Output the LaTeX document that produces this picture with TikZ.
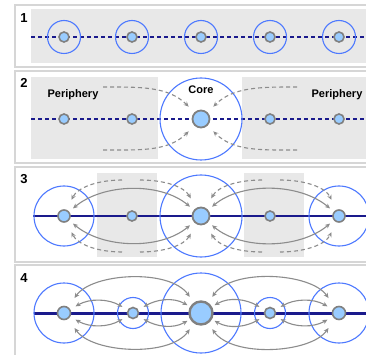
\documentclass[tikz,border=0pt]{standalone}
\usepackage{fontspec}
\setmainfont{Liberation Sans}
\usetikzlibrary{arrows.meta}
\definecolor{ringblue}{RGB}{77,121,255}
\definecolor{sitefill}{RGB}{153,204,255}
\definecolor{sitegray}{RGB}{128,128,128}
\definecolor{navy}{RGB}{26,26,140}
\definecolor{pale}{RGB}{232,232,232}
\definecolor{rim}{RGB}{214,214,214}
\definecolor{flow}{RGB}{140,140,140}
\begin{document}
\begin{tikzpicture}[x=1pt, y=1pt,
    frame/.style={draw=rim, line width=2pt, fill=white},
    shade/.style={fill=pale},
    ring/.style={draw=ringblue, line width=1.1pt},
    site/.style={circle, draw=sitegray, fill=sitefill, line width=1.6pt, inner sep=0pt},
    num/.style={font=\fontsize{13}{13}\selectfont\bfseries},
    tag/.style={font=\fontsize{11}{11}\selectfont\bfseries},
    axis/.style={draw=navy, line width=1.2pt},
    link/.style={draw=flow, line width=1.1pt, shorten <=5pt, shorten >=5pt,
        {Stealth[length=5pt,width=4.5pt]}-{Stealth[length=5pt,width=4.5pt]}},
    hint/.style={draw=flow, line width=1.1pt, dash pattern=on 4pt off 3pt,
        -{Stealth[length=5pt,width=4.5pt]}}]
\useasboundingbox (0,0) rectangle (366,-355);
\clip (0,0) rectangle (366,-355);
%---------------------------------------------------------
%1: rings everywhere, dashed line
%
%  -(o)--(o)--(o)--(o)--(o)-
%
\draw[frame] (15,-5) rectangle (380,-67);
\fill[shade] (31,-9) rectangle (380,-63);
\node[num] (n1) at (24,-18) {1};
\coordinate (w1) at (31,-37);
\coordinate (e1) at (380,-37);
\draw[axis, dash pattern=on 4pt off 3pt] (w1) -- (e1);
\node[site, minimum size=10pt] (a1) at (64,-37) {};
\node[site, minimum size=10pt] (a2) at (132,-37) {};
\node[site, minimum size=10pt] (a3) at (201,-37) {};
\node[site, minimum size=10pt] (a4) at (270,-37) {};
\node[site, minimum size=10pt] (a5) at (339,-37) {};
\draw[ring] (a1) circle[radius=16.5];
\draw[ring] (a2) circle[radius=16.5];
\draw[ring] (a3) circle[radius=16.5];
\draw[ring] (a4) circle[radius=16.5];
\draw[ring] (a5) circle[radius=16.5];
%---------------------------------------------------------
%2: one core, periphery pulled in
\draw[frame] (15,-71) rectangle (380,-163);
\fill[shade] (31,-77) rectangle (158,-159); %left periphery
\fill[shade] (242,-77) rectangle (380,-159); %right periphery
\node[num] (n2) at (24,-83) {2};
\coordinate (w2) at (31,-119);
\coordinate (e2) at (380,-119);
\draw[axis, dash pattern=on 4pt off 3pt] (w2) -- (e2);
\node[site, minimum size=10pt] (b1) at (64,-119) {};
\node[site, minimum size=10pt] (b2) at (132,-119) {};
\node[site, minimum size=17pt, line width=1.8pt] (b3) at (201,-119) {};
\node[site, minimum size=10pt] (b4) at (270,-119) {};
\node[site, minimum size=10pt] (b5) at (339,-119) {};
\draw[ring] (b3) circle[radius=41];
\node[tag] (p2l) at (73,-95) {Periphery};
\node[tag] (k2) at (201,-90) {Core};
\node[tag] (p2r) at (337,-95) {Periphery};
%dashed pulls, starting out in the grey
\coordinate (s2a) at (103,-87);
\coordinate (s2b) at (103,-150);
\coordinate (s2c) at (297,-87);
\coordinate (s2d) at (297,-150);
\draw[hint, shorten >=8pt] (s2a) to[out=0, in=135] (b3);
\draw[hint, shorten >=8pt] (s2b) to[out=0, in=-135] (b3);
\draw[hint, shorten >=8pt] (s2c) to[out=180, in=45] (b3);
\draw[hint, shorten >=8pt] (s2d) to[out=180, in=-45] (b3);
%---------------------------------------------------------
%3: core and two ends, middles left in the grey
\draw[frame] (15,-167) rectangle (380,-262);
\fill[shade] (97,-173) rectangle (157,-257);
\fill[shade] (244,-173) rectangle (304,-257);
\node[num] (n3) at (24,-179) {3};
\coordinate (w3) at (33,-216);
\coordinate (e3) at (380,-216);
\draw[axis] (w3) -- (e3);
\node[site, minimum size=12pt] (c1) at (64,-216) {};
\node[site, minimum size=10pt] (c2) at (132,-216) {};
\node[site, minimum size=17pt, line width=1.8pt] (c3) at (201,-216) {};
\node[site, minimum size=10pt] (c4) at (270,-216) {};
\node[site, minimum size=12pt] (c5) at (339,-216) {};
\draw[ring] (c1) circle[radius=30];
\draw[ring] (c3) circle[radius=41];
\draw[ring] (c5) circle[radius=30];
\draw[link] (c1) to[out=40, in=140, looseness=0.9] (c3); %upper left swing
\draw[link] (c1) to[out=-40, in=-140, looseness=0.9] (c3);
\draw[link] (c3) to[out=40, in=140, looseness=0.9] (c5); %upper right swing
\draw[link] (c3) to[out=-40, in=-140, looseness=0.9] (c5);
%dashed pulls out of the middles
\coordinate (s3a) at (122,-180);
\coordinate (s3b) at (140,-180);
\coordinate (s3c) at (122,-252);
\coordinate (s3d) at (140,-252);
\coordinate (s3e) at (262,-180);
\coordinate (s3f) at (280,-180);
\coordinate (s3g) at (262,-252);
\coordinate (s3h) at (280,-252);
\draw[hint, shorten >=11pt] (s3a) to[out=180, in=65] (c1);
\draw[hint, shorten >=11pt] (s3b) to[out=0, in=120] (c3);
\draw[hint, shorten >=11pt] (s3c) to[out=180, in=-65] (c1);
\draw[hint, shorten >=11pt] (s3d) to[out=0, in=-120] (c3);
\draw[hint, shorten >=11pt] (s3e) to[out=180, in=60] (c3);
\draw[hint, shorten >=11pt] (s3f) to[out=0, in=115] (c5);
\draw[hint, shorten >=11pt] (s3g) to[out=180, in=-60] (c3);
\draw[hint, shorten >=11pt] (s3h) to[out=0, in=-115] (c5);
%---------------------------------------------------------
%4: everything tied together, thick line
\draw[frame] (15,-265) rectangle (380,-370);
\node[num] (n4) at (24,-278) {4};
\coordinate (w4) at (34,-313);
\coordinate (e4) at (380,-313);
\draw[axis, line width=3pt] (w4) -- (e4);
\node[site, minimum size=13pt] (d1) at (64,-313) {};
\node[site, minimum size=11pt] (d2) at (133,-313) {};
\node[site, minimum size=23pt, line width=2.4pt] (d3) at (201,-313) {};
\node[site, minimum size=11pt] (d4) at (270,-313) {};
\node[site, minimum size=13pt] (d5) at (339,-313) {};
\draw[ring] (d1) circle[radius=30];
\draw[ring] (d2) circle[radius=15.5];
\draw[ring] (d3) circle[radius=40];
\draw[ring] (d4) circle[radius=15.5];
\draw[ring] (d5) circle[radius=30];
%long swings, end to core
\draw[link, shorten <=11pt, shorten >=7pt] (d1) to[out=55, in=125, looseness=0.85] (d3);
\draw[link, shorten <=11pt, shorten >=7pt] (d1) to[out=-55, in=-125, looseness=0.85] (d3);
\draw[link, shorten <=7pt, shorten >=11pt] (d3) to[out=55, in=125, looseness=0.85] (d5);
\draw[link, shorten <=7pt, shorten >=11pt] (d3) to[out=-55, in=-125, looseness=0.85] (d5);
%short swings, neighbour to neighbour
\draw[link, shorten <=6pt, shorten >=6pt] (d1) to[out=30, in=150] (d2);
\draw[link, shorten <=6pt, shorten >=6pt] (d1) to[out=-30, in=-150] (d2);
\draw[link, shorten <=6pt, shorten >=3pt] (d2) to[out=30, in=150] (d3);
\draw[link, shorten <=6pt, shorten >=3pt] (d2) to[out=-30, in=-150] (d3);
\draw[link, shorten <=3pt, shorten >=6pt] (d3) to[out=30, in=150] (d4);
\draw[link, shorten <=3pt, shorten >=6pt] (d3) to[out=-30, in=-150] (d4);
\draw[link, shorten <=6pt, shorten >=6pt] (d4) to[out=30, in=150] (d5);
\draw[link, shorten <=6pt, shorten >=6pt] (d4) to[out=-30, in=-150] (d5);
\end{tikzpicture}
\end{document}
